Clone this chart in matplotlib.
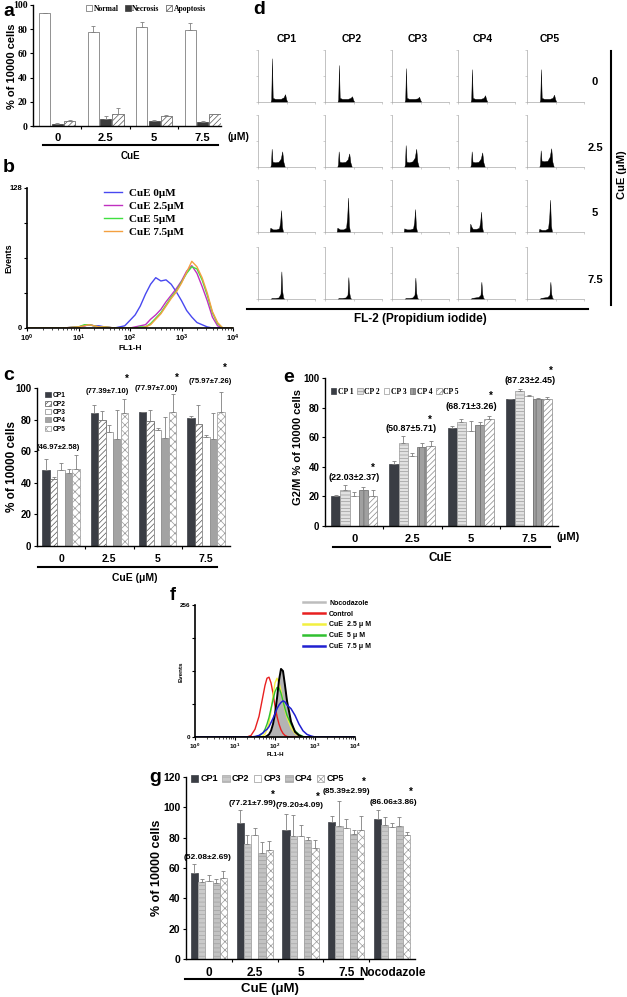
import numpy as np
import matplotlib

matplotlib.use("Agg")
import matplotlib.pyplot as plt
from matplotlib.lines import Line2D
from matplotlib.patches import Patch

W, H = 627, 997

# ---- data ----
DOSES = ['0', '2.5', '5', '7.5']
CP = ['CP1', 'CP2', 'CP3', 'CP4', 'CP5']

# a: annexin / PI staining
A_SERIES = ['Normal', 'Necrosis', 'Apoptosis']
A_MEANS = [[93, 78, 82, 79], [2, 6, 4, 3.5], [4.5, 10, 8.5, 9.8]]
A_TOPS = [[93.5, 83, 86, 85], [2.3, 8.5, 5, 4], [4.8, 14.5, 9.3, 10.3]]

# b: FL1-H histograms
B_FL1 = [1, 5, 10, 13, 16, 20, 25, 32, 50, 79, 100, 126, 158, 200, 251, 316,
         398, 501, 631, 794, 1000, 1259, 1585, 1995, 2512, 3162, 3981, 5012, 6310, 10000]
B_LABELS = ['CuE 0μM', 'CuE 2.5μM', 'CuE 5μM', 'CuE 7.5μM']
B_COUNTS = [
    [0, 0, 1, 2, 3, 2, 2, 1, 0, 2, 7, 12, 20, 31, 40, 46, 43, 44, 40, 33, 25, 16, 10, 5, 3, 1, 0, 0, 0, 0],
    [0, 0, 1, 2, 3, 2, 1, 1, 0, 0, 0, 1, 2, 3, 8, 12, 17, 24, 30, 36, 43, 52, 57, 50, 38, 25, 10, 2, 0, 0],
    [0, 0, 1, 3, 3, 2, 1, 1, 0, 0, 0, 0, 1, 1, 4, 9, 14, 21, 28, 34, 42, 50, 56, 54, 44, 30, 14, 4, 0, 0],
    [0, 0, 1, 2, 3, 2, 1, 1, 0, 0, 0, 0, 0, 1, 3, 8, 13, 20, 27, 33, 41, 51, 61, 56, 46, 32, 15, 5, 0, 0],
]
B_COLOURS = ['#4848f0', '#c030c0', '#40e040', '#f4a040']

# c: % of cells per cell line
C_MEANS = [[48, 84, 85, 81], [42.5, 79.5, 79, 77], [48, 72, 73.5, 69],
           [46, 68, 68.5, 68], [48.7, 84, 84.5, 85]]
C_TOPS = [[55, 89.5, 85, 82.5], [43.5, 85.5, 86, 89], [52.5, 76.5, 75, 70],
          [49, 86, 81.5, 84], [57.5, 93, 96, 97.5]]
C_NOTES = ['(46.97±2.58)', '(77.39±7.10)', '(77.97±7.00)', '(75.97±7.26)']

# d: PI cell-cycle histograms, rows = dose, cols = CP1..CP5
D_CHANNELS = [
    [220, 232, 245, 258, 300, 400, 450, 475, 495, 515],
    [215, 228, 240, 255, 300, 360, 400, 425, 445, 470],
    [205, 215, 235, 260, 320, 370, 390, 405, 420, 440],
    [220, 240, 300, 360, 395, 410, 425, 440, 460],
]
D_COUNTS = [
    [[0, 0.05, 0.84, 0.08, 0.06, 0.06, 0.09, 0.15, 0.05, 0],
     [0, 0.05, 0.71, 0.08, 0.06, 0.06, 0.08, 0.11, 0.04, 0],
     [0, 0.05, 0.65, 0.08, 0.06, 0.06, 0.07, 0.10, 0.04, 0],
     [0, 0.05, 0.63, 0.08, 0.06, 0.06, 0.08, 0.13, 0.05, 0],
     [0, 0.05, 0.63, 0.08, 0.06, 0.06, 0.08, 0.14, 0.05, 0]],
    [[0, 0.05, 0.35, 0.10, 0.09, 0.10, 0.16, 0.30, 0.10, 0],
     [0, 0.05, 0.30, 0.10, 0.09, 0.10, 0.15, 0.26, 0.09, 0],
     [0, 0.05, 0.42, 0.10, 0.09, 0.11, 0.18, 0.35, 0.10, 0],
     [0, 0.05, 0.30, 0.10, 0.09, 0.10, 0.16, 0.28, 0.09, 0],
     [0, 0.05, 0.32, 0.12, 0.11, 0.12, 0.20, 0.36, 0.10, 0]],
    [[0, 0.08, 0.07, 0.05, 0.05, 0.07, 0.20, 0.42, 0.10, 0],
     [0, 0.08, 0.07, 0.05, 0.05, 0.08, 0.30, 0.66, 0.12, 0],
     [0, 0.07, 0.06, 0.05, 0.05, 0.07, 0.20, 0.44, 0.10, 0],
     [0, 0.16, 0.10, 0.06, 0.06, 0.08, 0.20, 0.39, 0.10, 0],
     [0, 0.06, 0.05, 0.04, 0.04, 0.07, 0.28, 0.62, 0.12, 0]],
    [[0, 0.02, 0.02, 0.03, 0.10, 0.53, 0.15, 0.03, 0],
     [0, 0.02, 0.02, 0.03, 0.08, 0.42, 0.12, 0.03, 0],
     [0, 0.02, 0.02, 0.03, 0.08, 0.41, 0.12, 0.03, 0],
     [0, 0.02, 0.03, 0.04, 0.08, 0.33, 0.10, 0.03, 0],
     [0, 0.02, 0.03, 0.04, 0.08, 0.33, 0.10, 0.03, 0]],
]

# e: G2/M fraction
E_MEANS = [[20, 42, 66.5, 85.5], [24.5, 56, 70.5, 91], [20, 47.5, 64.5, 88],
           [24.5, 53.5, 68.5, 85.5], [20.5, 54, 72.5, 86]]
E_TOPS = [[21, 44, 67.7, 85.5], [28, 60.7, 72, 92.5], [23, 49.5, 71, 88.5],
          [26.6, 56.4, 70, 86.5], [24, 57.5, 74.3, 87.2]]
E_NOTES = ['(22.03±2.37)', '(50.87±5.71)', '(68.71±3.26)', '(87.23±2.45)']

# f: FL1-H histograms with nocodazole
F_LOG_FL1 = [0, 1.0, 1.3, 1.4, 1.5, 1.6, 1.7, 1.75, 1.8, 1.85, 1.9, 1.95, 2.0, 2.05,
             2.1, 2.15, 2.2, 2.25, 2.3, 2.4, 2.5, 2.6, 2.7, 2.8, 2.9, 3.0, 3.2, 4.0]
F_NOCO = [0, 0, 0, 0, 0, 0, 0, 0, 2, 5, 12, 25, 45, 75, 110, 132, 128, 100, 70, 30, 10, 3, 0, 0, 0, 0, 0, 0]
F_CONTROL = [0, 0, 0, 3, 15, 40, 80, 100, 114, 116, 105, 85, 60, 40, 25, 14, 7, 3, 1, 0, 0, 0, 0, 0, 0, 0, 0, 0]
F_CUE25 = [0, 0, 0, 0, 0, 0, 2, 6, 14, 28, 50, 80, 105, 114, 105, 90, 70, 52, 38, 18, 7, 2, 0, 0, 0, 0, 0, 0]
F_CUE5 = [0, 0, 0, 0, 0, 2, 8, 15, 25, 38, 55, 72, 88, 96, 95, 85, 70, 55, 42, 25, 12, 5, 1, 0, 0, 0, 0, 0]
F_CUE75 = [0, 0, 0, 0, 1, 3, 8, 12, 15, 20, 28, 36, 45, 55, 62, 67, 70, 68, 62, 55, 42, 25, 12, 5, 2, 0, 0, 0]
F_LABELS = ['Nocodazole', 'Control', 'CuE  2.5 μ M', 'CuE  5 μ M', 'CuE  7.5 μ M']

# g: with nocodazole group
G_GROUPS = ['0', '2.5', '5', '7.5', 'Nocodazole']
G_MEANS = [[56.5, 89.5, 85, 90.5, 92.5], [50.5, 75.5, 81, 87.5, 88.5],
           [51.5, 81.5, 81, 86.5, 87], [50, 70, 78.5, 82.5, 87.5],
           [53.5, 72, 73.5, 85, 81.5]]
G_TOPS = [[62.5, 98.5, 95.5, 94.5, 98.5], [53, 82, 95, 104.5, 93.5],
          [55.5, 86.5, 88.5, 92, 89.5], [53, 77, 80.5, 85, 93.5],
          [58, 77.5, 78.5, 94, 83.5]]
G_NOTES = ['(52.08±2.69)', '(77.21±7.99)', '(79.20±4.09)', '(85.39±2.99)', '(86.06±3.86)']

# ---- styles ----
DARK = '#3a3d44'
A_STYLES = [dict(facecolor='white', edgecolor='#666666'),
            dict(facecolor='#3b3b3b', edgecolor='#3b3b3b'),
            dict(facecolor='white', edgecolor='#555555', hatch='//////')]
C_STYLES = [dict(facecolor=DARK, edgecolor=DARK),
            dict(facecolor='white', edgecolor='#555555', hatch='//////'),
            dict(facecolor='white', edgecolor='#888888'),
            dict(facecolor='#a3a3a3', edgecolor='#909090'),
            dict(facecolor='white', edgecolor='#999999', hatch='xxxx')]
E_STYLES = [dict(facecolor=DARK, edgecolor=DARK),
            dict(facecolor='#e2e2e2', edgecolor='#9a9a9a', hatch='-----'),
            dict(facecolor='white', edgecolor='#999999'),
            dict(facecolor='#a0a0a0', edgecolor='#666666', hatch='|||'),
            dict(facecolor='white', edgecolor='#888888', hatch='//////')]
G_STYLES = [dict(facecolor=DARK, edgecolor=DARK),
            dict(facecolor='#cacaca', edgecolor='#a8a8a8', hatch='----'),
            dict(facecolor='white', edgecolor='#999999'),
            dict(facecolor='#c2c2c2', edgecolor='#a0a0a0', hatch='----'),
            dict(facecolor='white', edgecolor='#999999', hatch='xxxx')]

plt.rcParams['font.family'] = ['Liberation Sans', 'DejaVu Sans']
plt.rcParams['font.weight'] = 'bold'
plt.rcParams['axes.labelweight'] = 'bold'
plt.rcParams['hatch.linewidth'] = 0.5
plt.rcParams['mathtext.fontset'] = 'custom'
plt.rcParams['mathtext.rm'] = 'Liberation Sans:bold'
plt.rcParams['mathtext.bf'] = 'Liberation Sans:bold'
plt.rcParams['mathtext.default'] = 'bf'
SERIF = ['Liberation Serif', 'DejaVu Serif']

fig = plt.figure(figsize=(W / 100, H / 100), dpi=100)


def box(l, t, r, b):
    return fig.add_axes([l / W, 1 - b / H, (r - l) / W, (b - t) / H])


def txt(x, y, s, size=8, **kw):
    kw.setdefault('ha', 'center')
    kw.setdefault('va', 'center')
    fig.text(x / W, 1 - y / H, s, fontsize=size, fontweight='bold', **kw)


def hline(x0, x1, y, lw=1.5):
    fig.add_artist(Line2D([x0 / W, x1 / W], [1 - y / H, 1 - y / H], color='k', lw=lw))


def vline(x, y0, y1, lw=1.5):
    fig.add_artist(Line2D([x / W, x / W], [1 - y0 / H, 1 - y1 / H], color='k', lw=lw))


def bars(ax, means, tops, styles, width, step):
    n = len(means)
    x = np.arange(len(means[0]))
    for j in range(n):
        pos = x + (j - (n - 1) / 2) * step
        m = np.asarray(means[j], float)
        up = np.clip(np.asarray(tops[j], float) - m, 0, None)
        ax.bar(pos, m, width, linewidth=0.5, zorder=2, **styles[j])
        ax.errorbar(pos, m, yerr=[np.zeros_like(up), up], fmt='none', ecolor='#808080',
                    elinewidth=0.6, capsize=1.3, capthick=0.6, zorder=3)


def bar_axes(ax, labels, ymax, ystep, tick_fs, cat_fs, pad, xmax=None, serif=False):
    ax.set_xlim(-0.5, len(labels) - 0.5 if xmax is None else xmax)
    ax.set_ylim(0, ymax)
    ax.set_yticks(np.arange(0, ymax + 1, ystep))
    ax.set_xticks(range(len(labels)))
    ax.set_xticklabels(labels, fontsize=cat_fs, fontweight='bold')
    ax.set_xticks(np.arange(0.5, len(labels) - 0.5), minor=True)
    ax.tick_params(axis='x', which='major', length=0, pad=pad)
    ax.tick_params(axis='x', which='minor', length=2.5, width=0.8, direction='out')
    ax.tick_params(axis='y', length=2.5, width=0.8, labelsize=tick_fs, pad=1.5)
    if serif:
        for lab in ax.get_yticklabels():
            lab.set_family(SERIF)
    for s in ('top', 'right'):
        ax.spines[s].set_visible(False)
    for s in ('left', 'bottom'):
        ax.spines[s].set_linewidth(1.0)


def flow_axes(ax, ymax, fs):
    ax.set_xscale('log')
    ax.set_xlim(1, 1e4)
    ax.set_ylim(0, ymax)
    ax.set_yticks(np.linspace(0, ymax, 5))
    ax.set_yticklabels(['0', '', '', '', str(ymax)])
    ax.set_xticks([1, 10, 100, 1000, 10000])
    ax.tick_params(labelsize=fs, length=2.5, width=0.8, pad=1)
    ax.tick_params(which='minor', length=1.5, width=0.5)
    for s in ('top', 'right'):
        ax.spines[s].set_visible(False)
    for s in ('left', 'bottom'):
        ax.spines[s].set_linewidth(1.2)


# ---------------- panel a ----------------
ax_a = box(33, 5, 221, 126)
bars(ax_a, A_MEANS, A_TOPS, A_STYLES, 0.23, 0.255)
bar_axes(ax_a, DOSES, 100, 20, 7, 8, 5, xmax=3.38, serif=True)
ax_a.legend(handles=[Patch(label=l, linewidth=0.5, **s) for l, s in zip(A_SERIES, A_STYLES)],
            loc='center', bbox_to_anchor=(0.6, 0.97), ncol=3, frameon=False,
            prop={'family': SERIF, 'size': 5.5, 'weight': 'bold'},
            handlelength=0.8, handleheight=0.8, handletextpad=0.2, columnspacing=0.8)
txt(3, 12, 'a', 14, ha='left')
txt(12, 66, '% of 10000 cells', 8, rotation=90)
txt(238, 137, '(μM)', 7.5)
hline(43, 218, 145)
txt(130, 156, 'CuE', 7)

# ---------------- panel b ----------------
ax_b = box(27, 188, 233, 328)
for counts, lab, col in zip(B_COUNTS, B_LABELS, B_COLOURS):
    ax_b.plot(B_FL1, counts, color=col, lw=1.0, label=lab)
flow_axes(ax_b, 128, 5.5)
ax_b.legend(loc='upper left', bbox_to_anchor=((100 - 27) / 206, 1.03), frameon=False,
            prop={'family': SERIF, 'size': 8, 'weight': 'bold'}, labelspacing=0.3,
            handlelength=1.6, handletextpad=0.6, borderaxespad=0)
txt(3, 167, 'b', 14, ha='left')
txt(9, 258, 'Events', 6.5, rotation=90)
txt(130, 348, 'FL1-H', 6)

# ---------------- panel c ----------------
ax_c = box(37, 388, 230, 546)
bars(ax_c, C_MEANS, C_TOPS, C_STYLES, 0.155, 0.155)
bar_axes(ax_c, DOSES, 100, 20, 7, 7.5, 6)
ax_c.legend(handles=[Patch(label=l, linewidth=0.5, **s) for l, s in zip(CP, C_STYLES)],
            loc='upper left', bbox_to_anchor=(0.03, 0.99), frameon=False,
            prop={'size': 4.8, 'weight': 'bold'}, labelspacing=0.2,
            handlelength=0.8, handleheight=0.8, handletextpad=0.3, borderaxespad=0)
for x, y, s in [(-0.06, 62.5, C_NOTES[0]), (0.95, 97.5, C_NOTES[1]),
                (1.97, 100, C_NOTES[2]), (3.09, 103.8, C_NOTES[3])]:
    ax_c.text(x, y, s, fontsize=5.5, fontweight='bold', ha='center', va='center', clip_on=False)
for x, y in [(1.37, 106), (2.4, 106.5), (3.4, 113)]:
    ax_c.text(x, y, '*', fontsize=7, fontweight='bold', ha='center', va='center', clip_on=False)
txt(3, 376, 'c', 14, ha='left')
txt(12, 467, '% of 10000 cells', 8.5, rotation=90)
hline(38, 217, 567)
txt(135, 578, 'CuE (μM)', 7.5)

# ---------------- panel d ----------------
D_LEFT = [258, 325, 392, 458, 527]
D_TOP = [50, 115, 180, 247]
for r in range(4):
    for c in range(5):
        ax = box(D_LEFT[c], D_TOP[r], D_LEFT[c] + 57, D_TOP[r] + 52)
        ax.fill_between(D_CHANNELS[r], D_COUNTS[r][c], color='k', lw=0.3)
        ax.set_xlim(0, 1000)
        ax.set_ylim(0, 1)
        ax.set_xticks([0, 500, 1000])
        ax.set_yticks([0, 0.5, 1])
        ax.tick_params(length=1.5, width=0.4, colors='#aaaaaa', labelleft=False, labelbottom=False)
        for s in ('top', 'right'):
            ax.spines[s].set_visible(False)
        for s in ('left', 'bottom'):
            ax.spines[s].set_linewidth(0.5)
            ax.spines[s].set_color('#aaaaaa')
for x, name in zip([287, 352, 418, 483, 550], CP):
    txt(x, 39, name, 7.5)
for y, dose in zip([82, 148, 213, 280], DOSES):
    txt(595, y, dose, 8)
txt(253, 10, 'd', 14, ha='left')
vline(611, 51, 305)
txt(622, 175, 'CuE (μM)', 8, rotation=90)
hline(247, 588, 309)
txt(420, 319, 'FL-2 (Propidium iodide)', 8.5)

# ---------------- panel e ----------------
ax_e = box(325, 378, 558, 526)
bars(ax_e, E_MEANS, E_TOPS, E_STYLES, 0.158, 0.158)
bar_axes(ax_e, DOSES, 100, 20, 7, 8, 6)
ax_e.legend(handles=[Patch(label=l.replace('CP', 'CP '), linewidth=0.5, **s)
                     for l, s in zip(CP, E_STYLES)],
            loc='center', bbox_to_anchor=(0.3, 0.905), ncol=5, frameon=False,
            prop={'family': SERIF, 'size': 5.5}, handlelength=0.7, handleheight=0.8,
            handletextpad=0.2, columnspacing=0.5)
for x, y, s in [(0.0, 33, E_NOTES[0]), (0.98, 66.2, E_NOTES[1]),
                (2.02, 81, E_NOTES[2]), (3.02, 98, E_NOTES[3])]:
    ax_e.text(x, y, s, fontsize=6.5, fontweight='bold', ha='center', va='center', clip_on=False)
for x, y in [(0.32, 39), (1.3, 72), (2.35, 88), (3.38, 105)]:
    ax_e.text(x, y, '*', fontsize=7, fontweight='bold', ha='center', va='center', clip_on=False)
txt(283, 377, 'e', 14, ha='left')
txt(298, 447, 'G2/M % of 10000 cells', 8, rotation=90)
txt(568, 537, '(μM)', 8)
hline(333, 550, 547)
txt(440, 558, 'CuE', 8.5)

# ---------------- panel f ----------------
ax_f = box(195, 605, 355, 737)
f_x = np.power(10.0, F_LOG_FL1)
ax_f.fill_between(f_x, F_NOCO, color='#b4b4b4', lw=0, zorder=1)
for counts, col, lw in [(F_CONTROL, '#e82020', 1.0), (F_CUE25, '#f2f040', 1.0),
                        (F_CUE5, '#30c030', 1.0), (F_NOCO, 'black', 1.4),
                        (F_CUE75, '#2020d0', 1.1)]:
    ax_f.plot(f_x, counts, color=col, lw=lw, zorder=2)
flow_axes(ax_f, 256, 4.5)
f_handles = [Line2D([], [], color=c, lw=1.8) for c in
             ['#bdbdbd', '#e82020', '#f2f040', '#30c030', '#2020d0']]
ax_f.legend(f_handles, F_LABELS, loc='upper left', bbox_to_anchor=((300 - 195) / 160, 1.06),
            frameon=False, prop={'size': 5, 'weight': 'bold'}, labelspacing=0.55,
            handlelength=3.2, handletextpad=0.6, borderaxespad=0)
txt(170, 596, 'f', 13, ha='left')
txt(181, 672, 'Events', 4.5, rotation=90)
txt(275, 754, 'FL1-H', 4.5)

# ---------------- panel g ----------------
ax_g = box(186, 777, 415, 959)
bars(ax_g, G_MEANS, G_TOPS, G_STYLES, 0.158, 0.158)
bar_axes(ax_g, G_GROUPS, 120, 20, 7.5, 8.5, 6)
ax_g.legend(handles=[Patch(label=l, linewidth=0.5, **s) for l, s in zip(CP, G_STYLES)],
            loc='center', bbox_to_anchor=(0.355, 0.99), ncol=5, frameon=False,
            prop={'size': 6.5, 'weight': 'bold'}, handlelength=0.8, handleheight=0.8,
            handletextpad=0.25, columnspacing=0.5)
for x, y, s in [(-0.04, 67.2, G_NOTES[0]), (0.96, 102.2, G_NOTES[1]),
                (1.99, 100.9, G_NOTES[2]), (3.0, 110.7, G_NOTES[3]),
                (4.02, 103.5, G_NOTES[4])]:
    ax_g.text(x, y, s, fontsize=6, fontweight='bold', ha='center', va='center', clip_on=False)
for x, y in [(1.4, 108), (2.38, 107), (3.39, 117), (4.41, 110)]:
    ax_g.text(x, y, '*', fontsize=7, fontweight='bold', ha='center', va='center', clip_on=False)
txt(149, 777, 'g', 14, ha='left')
txt(157, 868, '% of 10000 cells', 9, rotation=90)
hline(185, 363, 979)
txt(270, 989, 'CuE (μM)', 9.5)

fig.savefig('out.png', dpi=100)
